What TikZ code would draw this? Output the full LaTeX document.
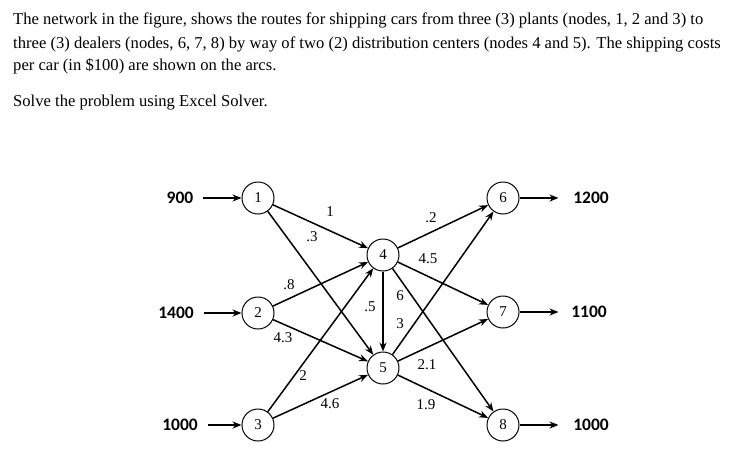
\documentclass[tikz,border=0pt]{standalone}
\usepackage{fontspec}
\setmainfont{Liberation Serif}
\newfontfamily\qtfont{Carlito}
\usetikzlibrary{arrows.meta}
\begin{document}
\begin{tikzpicture}[x=1pt,y=-1pt,
  nd/.style={circle,draw,line width=1pt,minimum size=32pt,inner sep=0pt,font=\fontsize{15}{15}\selectfont},
  ed/.style={line width=1.5pt,-{Stealth[length=9pt,width=7pt]}},
  lb/.style={font=\fontsize{15}{15}\selectfont,inner sep=0pt},
  qt/.style={font=\qtfont\bfseries\fontsize{17.5}{17.5}\selectfont,inner sep=0pt},
  tx/.style={font=\fontsize{16.6}{16.6}\selectfont,anchor=west,inner sep=0pt}]
\useasboundingbox (0,0) rectangle (753,472);
\node[tx] (t1) at (13,20) {The network in the figure, shows the routes for shipping cars from three (3) plants (nodes, 1, 2 and 3) to};
\node[tx] (t2) at (13,44) {three (3) dealers (nodes, 6, 7, 8) by way of two (2) distribution centers (nodes 4 and 5). The shipping costs};
\node[tx] (t3) at (13,66) {per car (in \$100) are shown on the arcs.};
\node[tx] (t4) at (13,103) {Solve the problem using Excel Solver.};
\node[nd] (n1) at (258,198) {1};
\node[nd] (n2) at (258,313) {2};
\node[nd] (n3) at (258,425) {3};
\node[nd] (n4) at (383,255) {4};
\node[nd] (n5) at (383,368) {5};
\node[nd] (n6) at (503,198) {6};
\node[nd] (n7) at (503,312) {7};
\node[nd] (n8) at (503,425) {8};
\node[qt] (s1) at (180,198) {900};
\node[qt] (s2) at (176,313) {1400};
\node[qt] (s3) at (180,425) {1000};
\node[qt] (d6) at (591,198) {1200};
\node[qt] (d7) at (589,312) {1100};
\node[qt] (d8) at (591,425) {1000};
\path (s1.east) ++(9,0) coordinate (a1);
\path (s2.east) ++(10,0) coordinate (a2);
\path (s3.east) ++(10,0) coordinate (a3);
\draw[ed] (a1) -- (n1);
\draw[ed] (a2) -- (n2);
\draw[ed] (a3) -- (n3);
\draw[ed] (n6.east) -- ++(39,0) coordinate (b6);
\draw[ed] (n7.east) -- ++(39,0) coordinate (b7);
\draw[ed] (n8.east) -- ++(39,0) coordinate (b8);
\foreach \a/\b in {1/4,1/5,2/4,2/5,3/4,3/5,4/5,4/6,4/7,4/8,5/6,5/7,5/8}
  \draw[ed] (n\a) -- (n\b);
\node[lb] at (330,212) {1};
\node[lb] at (312,237) {.3};
\node[lb] at (289,285) {.8};
\node[lb] at (283,338) {4.3};
\node[lb] at (303,376) {2};
\node[lb] at (330,404) {4.6};
\node[lb] at (431,218) {.2};
\node[lb] at (428,259) {4.5};
\node[lb] at (400,296) {6};
\node[lb] at (370,307) {.5};
\node[lb] at (400,324) {3};
\node[lb] at (427,365) {2.1};
\node[lb] at (426,405) {1.9};
\end{tikzpicture}
\end{document}
